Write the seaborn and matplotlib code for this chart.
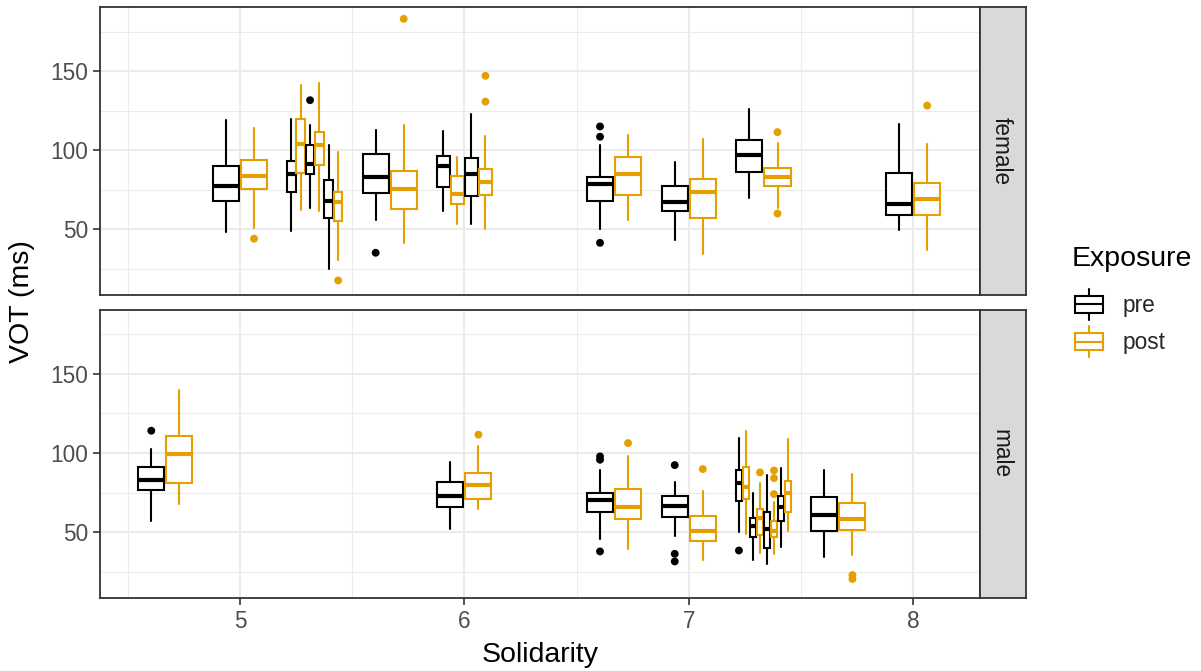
import numpy as np
import pandas as pd
import matplotlib
matplotlib.use("Agg")
import matplotlib.pyplot as plt
import seaborn as sns
from matplotlib.legend_handler import HandlerBase
from matplotlib.lines import Line2D
from matplotlib.patches import Rectangle

# ---------------- data ----------------
gender = (["female"] * 22) + (["male"] * 18)
solidarity = [5.0, 5.0,
              5.333, 5.333, 5.333, 5.333, 5.333, 5.333,
              5.667, 5.667,
              6.0, 6.0, 6.0, 6.0,
              6.667, 6.667,
              7.0, 7.0,
              7.333, 7.333,
              8.0, 8.0,
              4.667, 4.667,
              6.0, 6.0,
              6.667, 6.667,
              7.0, 7.0,
              7.333, 7.333, 7.333, 7.333, 7.333, 7.333, 7.333, 7.333,
              7.667, 7.667]
speaker = [0, 0,
           0, 0, 1, 1, 2, 2,
           0, 0,
           0, 0, 1, 1,
           0, 0,
           0, 0,
           0, 0,
           0, 0,
           0, 0,
           0, 0,
           0, 0,
           0, 0,
           0, 0, 1, 1, 2, 2, 3, 3,
           0, 0]
exposure = ["pre", "post"] * 20
q1 = [67.8, 75.2,
      73.7, 85.3, 84.7, 90.8, 56.9, 55.2,
      73.1, 63.0,
      76.6, 66.2, 71.0, 71.4,
      67.8, 71.6,
      61.3, 57.1,
      86.1, 77.1,
      58.8, 58.8,
      76.8, 80.8,
      66.1, 71.1,
      62.9, 58.5,
      59.6, 44.2,
      69.9, 71.1, 47.2, 48.4, 40.0, 47.0, 57.4, 62.5,
      51.1, 51.6]
med = [77.7, 84.0,
       84.7, 104.0, 91.4, 103.4, 68.2, 67.0,
       83.0, 75.2,
       90.3, 72.5, 85.1, 80.0,
       78.8, 85.1,
       67.4, 73.9,
       96.8, 83.0,
       65.9, 69.3,
       83.1, 99.4,
       73.2, 80.0,
       70.1, 66.1,
       66.5, 50.9,
       81.1, 78.7, 53.7, 59.3, 52.2, 50.5, 65.9, 74.7,
       61.0, 58.1]
q3 = [89.9, 93.5,
      93.3, 119.8, 103.2, 111.6, 80.9, 73.3,
      97.3, 86.6,
      96.2, 83.4, 94.8, 88.0,
      83.0, 96.0,
      77.3, 82.1,
      106.6, 88.6,
      85.5, 79.2,
      91.5, 110.9,
      81.7, 87.1,
      74.9, 77.5,
      72.6, 60.4,
      89.0, 91.2, 59.3, 64.4, 62.8, 57.4, 73.0, 82.1,
      72.4, 68.2]
whis_lo = [48.2, 50.8,
           48.9, 62.1, 63.2, 61.5, 25.1, 30.8,
           55.8, 41.5,
           61.7, 53.5, 53.5, 49.9,
           50.4, 55.8,
           43.0, 34.6,
           69.9, 63.2,
           49.3, 37.1,
           57.4, 67.6,
           52.2, 64.6,
           45.7, 39.4,
           47.8, 32.6,
           50.1, 49.1, 32.6, 37.2, 29.9, 36.2, 40.7, 50.5,
           34.5, 35.4]
whis_hi = [118.9, 114.1,
           119.8, 141.5, 115.8, 142.7, 103.0, 99.0,
           112.9, 115.8,
           112.2, 95.4, 122.7, 109.1,
           103.2, 109.3,
           92.7, 106.8,
           126.1, 104.7,
           116.7, 104.0,
           102.5, 139.5,
           94.3, 104.6,
           89.5, 98.3,
           81.7, 76.2,
           109.8, 114.1, 75.1, 80.8, 86.3, 69.4, 90.5, 109.0,
           89.3, 86.5]
# outliers: index of the box they belong to, and value
outlier_box = [1, 4, 7, 8, 9, 13, 13, 14, 14, 14, 19, 19, 21,
               22, 25, 26, 26, 26, 27, 28, 28, 28, 29,
               30, 33, 35, 35, 35, 39, 39]
outlier_val = [44.1, 131.6, 17.7, 35.2, 183.0, 147.0, 130.7, 115.0, 108.5, 41.5, 111.4, 60.0, 128.2,
               114.1, 111.6, 97.9, 95.8, 37.9, 106.3, 92.4, 36.4, 31.6, 89.9,
               38.5, 87.8, 89.0, 84.2, 74.1, 23.0, 20.5]

x_ticks = [5, 6, 7, 8]
y_ticks = [50, 100, 150]
facets = ["female", "male"]
levels = ["pre", "post"]

# ---------------- styling ----------------
sns.set_theme(style="white")
plt.rcParams["font.family"] = ["Liberation Sans", "DejaVu Sans"]
palette = {"pre": "#000000", "post": "#E69F00"}
GRID = "#EBEBEB"
BORDER = "#333333"
TICKC = "#4D4D4D"
FS_TICK = 16.3
FS_TITLE = 20.5
DODGE = 0.25

df = pd.DataFrame(dict(gender=gender, solidarity=solidarity, speaker=speaker,
                       Exposure=exposure, q1=q1, med=med, q3=q3,
                       lo=whis_lo, hi=whis_hi))
# dodge positions (ggplot-like)
df["k"] = df["speaker"] * 2 + df["Exposure"].map({"pre": 0, "post": 1})
df["n"] = df.groupby(["gender", "solidarity"])["k"].transform("count")
df["slot"] = DODGE / df["n"]
df["pos"] = df["solidarity"] + (df["k"] - (df["n"] - 1) / 2) * df["slot"]
df["width"] = df["slot"] * 0.93

fl = pd.DataFrame(dict(box=outlier_box, value=outlier_val))
fl["gender"] = df.loc[fl["box"], "gender"].values
fl["pos"] = df.loc[fl["box"], "pos"].values
fl["Exposure"] = df.loc[fl["box"], "Exposure"].values

W, H = 1201, 671
fig = plt.figure(figsize=(W / 100, H / 100), dpi=100)

def fx(px):
    return px / W

def fy(py):
    return 1 - py / H

panels = {"female": (7.3, 294.7), "male": (310.0, 597.7)}
xl, xr = 100, 980

for gi, g in enumerate(facets):
    top, bot = panels[g]
    ax = fig.add_axes([fx(xl), fy(bot), fx(xr - xl), (bot - top) / H])
    ax.set_xlim(4.376, 8.298)
    ax.set_ylim(8.7, 190.3)
    ax.set_facecolor("white")
    ax.set_xticks(x_ticks)
    ax.set_yticks(y_ticks)
    ax.set_xticks([4.5, 5.5, 6.5, 7.5], minor=True)
    ax.set_yticks([25, 75, 125, 175], minor=True)
    ax.grid(which="major", color=GRID, linewidth=1.5, zorder=0)
    ax.grid(which="minor", color=GRID, linewidth=0.75, zorder=0)
    ax.set_axisbelow(True)
    for s in ax.spines.values():
        s.set_color(BORDER)
        s.set_linewidth(1.3)
        s.set_zorder(50)
    ax.tick_params(axis="both", which="major", length=5, width=1.2, color=BORDER,
                   labelsize=FS_TICK, labelcolor=TICKC, pad=3.5, left=True, bottom=(g == "male"))
    ax.tick_params(axis="both", which="minor", length=0)
    if g != "male":
        ax.set_xticklabels([])
    sub = df[df["gender"] == g]
    for i, (idx, r) in enumerate(sub.iterrows()):
        c = palette[r["Exposure"]]
        z = 3 + i * 0.02
        st = [dict(med=r["med"], q1=r["q1"], q3=r["q3"], whislo=r["lo"], whishi=r["hi"], fliers=[])]
        ax.bxp(st, positions=[r["pos"]], widths=[r["width"]], showfliers=False, showcaps=False,
               patch_artist=True, manage_ticks=False,
               boxprops=dict(facecolor="white", edgecolor=c, linewidth=1.5, zorder=z + 0.01),
               whiskerprops=dict(color=c, linewidth=1.5, zorder=z),
               medianprops=dict(color=c, linewidth=3.0, zorder=z + 0.015, solid_capstyle="butt"))
    sns.scatterplot(data=fl[fl["gender"] == g], x="pos", y="value", hue="Exposure",
                    palette=palette, hue_order=levels, s=32, linewidth=0, ax=ax,
                    legend=False, zorder=2.5)
    ax.set_xlabel("")
    ax.set_ylabel("")
    # strip
    sax = fig.add_axes([fx(xr), fy(bot), fx(1026 - xr), (bot - top) / H])
    sax.set_facecolor("#D9D9D9")
    sax.set_xticks([])
    sax.set_yticks([])
    for s in sax.spines.values():
        s.set_color(BORDER)
        s.set_linewidth(1.3)
    sax.text(0.45, 0.5, g, rotation=270, ha="center", va="center", fontsize=FS_TICK,
             color="#1A1A1A", transform=sax.transAxes)

fig.text(fx(22), fy(302), "VOT (ms)", rotation=90, ha="center", va="center",
         fontsize=FS_TITLE, color="black")
fig.text(fx(540), fy(655), "Solidarity", ha="center", va="center",
         fontsize=FS_TITLE, color="black")


class BoxKey(HandlerBase):
    def create_artists(self, legend, orig_handle, xdescent, ydescent, width, height, fontsize, trans):
        c = orig_handle.get_color()
        cx = width / 2 - xdescent
        h = height
        y0 = -ydescent
        line = Line2D([cx, cx], [y0, y0 + h], color=c, linewidth=1.5, transform=trans)
        bw = width * 0.95
        rect = Rectangle((cx - bw / 2, y0 + h * 0.23), bw, h * 0.54, facecolor="white",
                         edgecolor=c, linewidth=1.5, transform=trans)
        mid = Line2D([cx - bw / 2, cx + bw / 2], [y0 + h / 2, y0 + h / 2], color=c,
                     linewidth=1.5, transform=trans)
        return [line, rect, mid]


fig.text(fx(1072), fy(259), "Exposure", ha="left", va="center",
         fontsize=FS_TITLE, color="black")
handles = [Line2D([], [], color=palette[l]) for l in levels]
leg = fig.legend(handles, levels, loc="upper left",
                 bbox_to_anchor=(fx(1074), fy(289)), frameon=False,
                 handler_map={Line2D: BoxKey()}, fontsize=FS_TICK,
                 handlelength=1.3, handleheight=1.7, handletextpad=0.85, labelspacing=0.3,
                 borderpad=0.0, borderaxespad=0.0)

fig.savefig("out.png", dpi=100)
